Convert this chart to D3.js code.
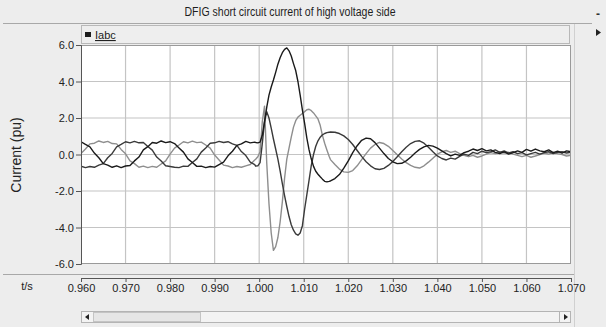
<!DOCTYPE html>
<html>
<head>
<meta charset="utf-8">
<script src="https://cdn.jsdelivr.net/npm/d3@7/dist/d3.min.js"></script>
<style>
  body { margin: 0; background: #ededed; }
  svg { display: block; font-family: "Liberation Sans", Arial, sans-serif; }
</style>
</head>
<body>
<svg id="chart" width="606" height="327"></svg>
<script>
// sample times: 1 ms before the fault, 0.5 ms through the transient, 1 ms after
const tPre   = d3.range(40).map(i => 0.960 + i * 0.001);
const tFault = d3.range(34).map(i => 0.9992 + i * 0.0005);
const tPost  = d3.range(55).map(i => 1.016 + i * 0.001);

// phase currents (pu)
const iaPre = [.70,.55,.42,.08,-.18,-.50,-.58,-.70,-.62,-.72,-.63,-.60,-.35,-.14,.25,.43,.66,.62,.74,.65,
               .70,.60,.36,.13,-.24,-.44,-.65,-.64,-.72,-.66,-.69,-.55,-.42,-.07,.18,.50,.58,.72,.64,.68];
const iaFault = [.66,.64,.68,1.05,1.8,2.6,3.25,3.7,4.08,4.5,4.95,5.3,5.58,5.76,5.84,5.68,5.40,4.98,4.6,4.0,
                 3.25,2.45,1.7,.9,.25,-.25,-.65,-.92,-1.08,-1.22,-1.35,-1.47,-1.50,-1.47];
const iaPost = [-1.45,-1.32,-1.10,-0.75,-0.35,0.10,0.48,0.78,0.90,0.86,0.65,0.35,0.05,-0.22,-0.40,
                -0.50,-0.48,-0.35,-0.15,0.08,0.28,0.42,0.50,0.46,0.35,0.20,0.05,-0.08,0.02,-0.05,
                0.10,0.18,0.30,0.22,0.32,0.20,0.25,0.12,0.05,0.15,0.02,0.10,0.20,0.12,0.28,
                0.18,0.30,0.20,0.15,0.25,0.10,0.18,0.08,0.20,0.15];

const ibPre = [.05,.30,.58,.62,.74,.66,.72,.60,.58,.28,.04,-.35,-.50,-.70,-.64,-.72,-.65,-.70,-.52,-.35,
               .02,.35,.52,.70,.64,.73,.65,.68,.52,.35,-.03,-.30,-.58,-.63,-.72,-.66,-.70,-.62,-.55,-.30];
const ibFault = [-.26,-.12,.15,1.8,2.65,-.48,-2.7,-4.3,-5.25,-5.05,-4.55,-3.7,-2.6,-1.3,-.25,.35,.95,1.5,1.85,2.05,
                 2.15,2.25,2.35,2.45,2.48,2.40,2.28,2.12,1.95,1.60,1.05,.62,.25,-.10];
const ibPost = [-0.28,-0.55,-0.80,-0.95,-0.98,-0.88,-0.62,-0.28,0.05,0.35,0.55,0.66,0.60,0.45,0.22,
                -0.02,-0.25,-0.45,-0.60,-0.70,-0.74,-0.62,-0.42,-0.20,0.02,0.15,0.22,0.12,0.18,0.05,
                -0.05,-0.12,-0.05,-0.15,-0.08,0.02,0.10,0.05,0.15,0.08,0.12,0.02,-0.05,-0.12,-0.05,
                -0.15,-0.08,0.0,0.08,0.02,0.12,0.05,0.0,-0.08,-0.05];

const icPre = [-.64,-.72,-.66,-.70,-.58,-.50,-.18,.06,.42,.55,.70,.64,.72,.64,.66,.44,.24,-.14,-.36,-.62,
               -.66,-.70,-.72,-.64,-.65,-.44,-.24,.13,.36,.62,.64,.72,.66,.70,.58,.50,.16,-.06,-.42,-.56];
const icFault = [-.64,-.62,-.45,.6,1.8,2.35,2.0,1.45,.85,.3,-.25,-.9,-1.6,-2.25,-2.85,-3.4,-3.85,-4.15,-4.35,-4.42,
                 -4.3,-3.9,-3.0,-2.2,-1.4,-.6,0,.45,.75,.95,1.08,1.15,1.20,1.22];
const icPost = [1.23,1.22,1.15,1.02,0.82,0.55,0.22,-0.10,-0.40,-0.62,-0.78,-0.82,-0.76,-0.60,-0.38,
                -0.12,0.15,0.40,0.60,0.72,0.75,0.62,0.40,0.15,-0.08,-0.22,-0.30,-0.20,-0.25,-0.10,
                0.02,-0.05,0.12,0.05,0.18,0.10,0.15,0.25,0.12,0.20,0.08,0.15,0.05,0.10,-0.02,
                0.05,0.12,0.02,0.10,0.15,0.05,0.12,0.15,0.08,0.12];

const xTicks = [0.960,0.970,0.980,0.990,1.000,1.010,1.020,1.030,1.040,1.050,1.060,1.070];
const yTicks = [-6,-4,-2,0,2,4,6];

const time = tPre.concat(tFault, tPost);
const phases = [
  { name: "ib", values: ibPre.concat(ibFault, ibPost), color: "#8e8e8e" },
  { name: "ic", values: icPre.concat(icFault, icPost), color: "#3a3a3a" },
  { name: "ia", values: iaPre.concat(iaFault, iaPost), color: "#1a1a1a" }
];

const svg = d3.select("#chart");
const L = 81, R = 571, T = 45, B = 264;

var x = d3.scaleLinear().domain([0.960, 1.070]).range([L, R]);
var y = d3.scaleLinear().domain([-6, 6]).range([B, T]);

// window chrome
svg.append("rect").attr("width", 606).attr("height", 327).attr("fill", "#ededed");
svg.append("text")
  .attr("x", 290).attr("y", 16)
  .attr("text-anchor", "middle")
  .attr("font-size", 12).attr("fill", "#1e1e1e")
  .attr("textLength", 211).attr("lengthAdjust", "spacingAndGlyphs")
  .text("DFIG short circuit current of high voltage side");
svg.append("line").attr("x1", 3).attr("x2", 592).attr("y1", 23.5).attr("y2", 23.5)
  .attr("stroke", "#a8a8a8");
svg.append("text").attr("x", 598).attr("y", 18).attr("text-anchor", "middle")
  .attr("font-size", 12).attr("font-weight", "bold").attr("fill", "#333").text("-");
svg.append("path").attr("d", "M596,29 L601,32.5 L596,36 Z").attr("fill", "#222");
svg.append("line").attr("x1", 574.5).attr("x2", 574.5).attr("y1", 24).attr("y2", 327)
  .attr("stroke", "#d0d0d0");

// legend strip
svg.append("rect").attr("x", L + 0.5).attr("y", 25.5).attr("width", R - L - 2).attr("height", 18)
  .attr("fill", "#eeeeee").attr("stroke", "#b8b8b8");
svg.append("rect").attr("x", 85).attr("y", 32).attr("width", 6).attr("height", 5).attr("fill", "#1c1c1c");
svg.append("text").attr("x", 95).attr("y", 39).attr("font-size", 11).attr("fill", "#222")
  .attr("text-decoration", "underline").text("Iabc");

// plot area
svg.append("rect").attr("x", L).attr("y", T).attr("width", R - L).attr("height", B - T)
  .attr("fill", "#ffffff");

var grid = svg.append("g").attr("stroke", "#c4c4c4").attr("stroke-width", 1.2);
grid.selectAll(".gx").data(xTicks.slice(1, -1)).enter().append("line")
  .attr("x1", d => x(d)).attr("x2", d => x(d)).attr("y1", T).attr("y2", B);
grid.selectAll(".gy").data(yTicks.slice(1, -1)).enter().append("line")
  .attr("x1", L).attr("x2", R).attr("y1", d => y(d)).attr("y2", d => y(d));

svg.append("clipPath").attr("id", "clip")
  .append("rect").attr("x", L).attr("y", T).attr("width", R - L).attr("height", B - T);

var line = d3.line()
  .x((d, i) => x(time[i]))
  .y(d => y(d));

svg.append("g").attr("clip-path", "url(#clip)")
  .selectAll("path").data(phases).enter().append("path")
  .attr("d", d => line(d.values))
  .attr("fill", "none")
  .attr("stroke", d => d.color)
  .attr("stroke-width", 1.4)
  .attr("stroke-linejoin", "round");

svg.append("rect").attr("x", L + 0.5).attr("y", T + 0.5).attr("width", R - L - 1).attr("height", B - T - 1)
  .attr("fill", "none").attr("stroke", "#9a9a9a");

// y axis
var yAxis = svg.append("g").attr("transform", "translate(" + L + ",0)")
  .call(d3.axisLeft(y).tickValues(yTicks).tickSize(5).tickFormat(d => d.toFixed(1)));
yAxis.select(".domain").attr("stroke", "#555");
yAxis.selectAll(".tick line").attr("stroke", "#555");
yAxis.selectAll("text").attr("font-size", 11).attr("fill", "#222")
  .attr("font-family", "Liberation Sans, Arial, sans-serif").attr("x", -7);

svg.append("text")
  .attr("transform", "translate(21,155) rotate(-90)")
  .attr("text-anchor", "middle").attr("font-size", 14).attr("fill", "#222")
  .text("Current (pu)");

// x axis band
svg.append("line").attr("x1", 3).attr("x2", 574).attr("y1", 274.5).attr("y2", 274.5)
  .attr("stroke", "#a8a8a8");
var xAxis = svg.append("g").attr("transform", "translate(0,278)")
  .call(d3.axisBottom(x).tickValues(xTicks).tickSizeInner(4).tickSizeOuter(0)
    .tickFormat(d => d.toFixed(3)));
xAxis.select(".domain").attr("stroke", "#555");
xAxis.selectAll(".tick line").attr("stroke", "#555");
xAxis.selectAll("text").attr("font-size", 11).attr("fill", "#222")
  .attr("font-family", "Liberation Sans, Arial, sans-serif").attr("y", 6);
svg.append("text").attr("x", 27).attr("y", 290).attr("text-anchor", "middle")
  .attr("font-size", 11).attr("fill", "#222").text("t/s");

// scroll bar
svg.append("rect").attr("x", L + 0.5).attr("y", 311.5).attr("width", R - L - 1).attr("height", 11)
  .attr("fill", "#f3f3f3").attr("stroke", "#b4b4b4");
svg.append("rect").attr("x", 93.5).attr("y", 312.5).attr("width", 107).attr("height", 9)
  .attr("fill", "#e6e6e6").attr("stroke", "#c4c4c4");
svg.append("path").attr("d", "M89,314 L85,317 L89,320 Z").attr("fill", "#222");
svg.append("line").attr("x1", 559.5).attr("x2", 559.5).attr("y1", 312).attr("y2", 322).attr("stroke", "#b4b4b4");
svg.append("path").attr("d", "M564,314 L568,317 L564,320 Z").attr("fill", "#222");
</script>
</body>
</html>
